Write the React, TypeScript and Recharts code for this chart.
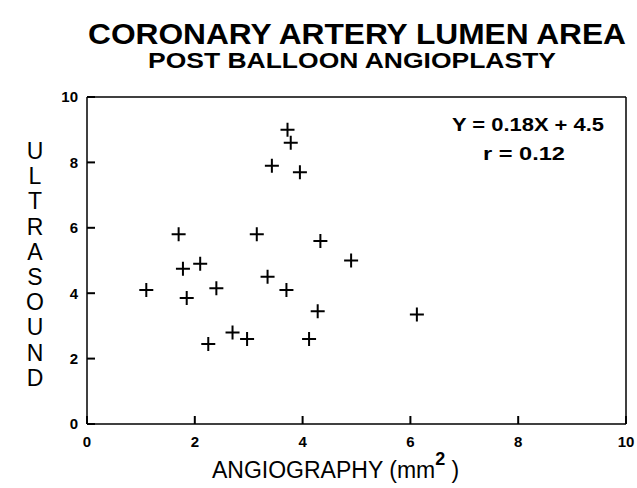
import React from 'react';
import {
  ScatterChart,
  Scatter,
  XAxis,
  YAxis,
  ReferenceLine,
} from 'recharts';

const angiography = [
  1.1, 1.7, 1.78, 1.85, 2.1, 2.4, 2.25, 2.7, 2.97, 3.15, 3.35,
  3.7, 4.12, 4.28, 4.33, 4.9, 6.12, 3.72, 3.78, 3.43, 3.95,
];
const ultrasound = [
  4.1, 5.8, 4.75, 3.85, 4.9, 4.15, 2.45, 2.8, 2.6, 5.8, 4.5,
  4.1, 2.6, 3.45, 5.6, 5.0, 3.35, 9.0, 8.6, 7.9, 7.7,
];
const xTicks = [0, 2, 4, 6, 8, 10];
const yTicks = [0, 2, 4, 6, 8, 10];
const yLetters = 'ULTRASOUND'.split('');

const data = angiography.map((x, i) => ({ x, y: ultrasound[i] }));

const FONT = '"Liberation Sans", Arial, sans-serif';
const TICK_IN = 8;

function Plus(props: any) {
  const { cx, cy } = props;
  return (
    <path
      d={`M${cx - 7},${cy}H${cx + 7}M${cx},${cy - 7}V${cy + 7}`}
      stroke="#000"
      strokeWidth={2}
      fill="none"
    />
  );
}

// tick marks point into the box (negative tickSize), labels stay outside
const renderYTick = (props: any) => {
  const { x, y, payload } = props;
  return (
    <text
      x={Number(x) - TICK_IN - 9}
      y={y}
      dy="0.36em"
      textAnchor="end"
      fontFamily={FONT}
      fontWeight={700}
      fontSize={15}
      fill="#000"
    >
      {payload.value}
    </text>
  );
};

const renderXTick = (props: any) => {
  const { x, y, payload } = props;
  return (
    <text
      x={x}
      y={Number(y) + TICK_IN + 23}
      textAnchor="middle"
      fontFamily={FONT}
      fontWeight={700}
      fontSize={15}
      fill="#000"
    >
      {payload.value}
    </text>
  );
};

export default function App() {
  return (
    <div style={{ position: 'absolute', left: 0, top: 0, background: '#fff' }}>
      <ScatterChart
        width={637}
        height={488}
        margin={{ top: 97, right: 11, bottom: 34, left: 57 }}
      >
        <XAxis
          type="number"
          dataKey="x"
          domain={[0, 10]}
          ticks={xTicks}
          height={30}
          tickSize={-TICK_IN}
          tickMargin={0}
          tick={renderXTick}
          axisLine={{ stroke: '#000', strokeWidth: 1.5 }}
          tickLine={{ stroke: '#000', strokeWidth: 2 }}
          interval={0}
        />
        <YAxis
          type="number"
          dataKey="y"
          domain={[0, 10]}
          ticks={yTicks}
          width={30}
          tickSize={-TICK_IN}
          tickMargin={0}
          tick={renderYTick}
          axisLine={{ stroke: '#000', strokeWidth: 1.5 }}
          tickLine={{ stroke: '#000', strokeWidth: 2 }}
          interval={0}
        />
        <ReferenceLine y={10} stroke="#000" strokeWidth={1.5} />
        <ReferenceLine x={10} stroke="#000" strokeWidth={1.5} />
        <Scatter data={data} shape={<Plus />} isAnimationActive={false} />

        <text
          x={357}
          y={44}
          textAnchor="middle"
          fontFamily={FONT}
          fontWeight={700}
          fontSize={29}
          textLength={538}
          lengthAdjust="spacingAndGlyphs"
          fill="#000"
        >
          CORONARY ARTERY LUMEN AREA
        </text>
        <text
          x={352}
          y={68}
          textAnchor="middle"
          fontFamily={FONT}
          fontWeight={700}
          fontSize={22}
          textLength={408}
          lengthAdjust="spacingAndGlyphs"
          fill="#000"
        >
          POST BALLOON ANGIOPLASTY
        </text>

        <text
          x={528}
          y={131}
          textAnchor="middle"
          fontFamily={FONT}
          fontWeight={700}
          fontSize={19}
          textLength={152}
          lengthAdjust="spacingAndGlyphs"
          fill="#000"
        >
          Y = 0.18X + 4.5
        </text>
        <text
          x={524}
          y={160}
          textAnchor="middle"
          fontFamily={FONT}
          fontWeight={700}
          fontSize={19}
          textLength={82}
          lengthAdjust="spacingAndGlyphs"
          fill="#000"
        >
          r = 0.12
        </text>

        <text x={212} y={478} fontFamily={FONT} fontSize={23} fill="#000">
          ANGIOGRAPHY (mm
          <tspan fontWeight={700} fontSize={18} dy={-13}>
            2
          </tspan>
          <tspan dy={13}> )</tspan>
        </text>

        {yLetters.map((ch, i) => (
          <text
            key={i}
            x={35}
            y={159 + i * 25.2}
            textAnchor="middle"
            fontFamily={FONT}
            fontSize={23}
            fill="#000"
          >
            {ch}
          </text>
        ))}
      </ScatterChart>
    </div>
  );
}
